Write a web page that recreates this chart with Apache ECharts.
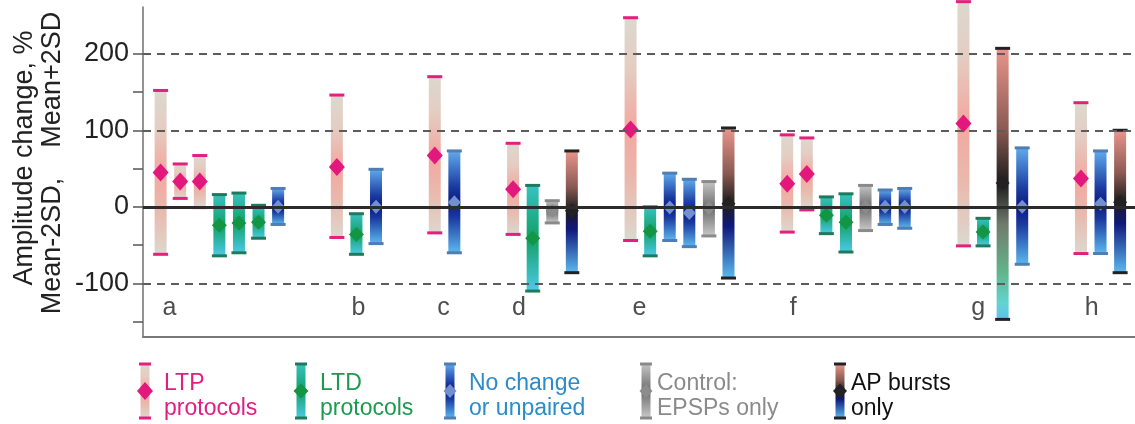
<!DOCTYPE html>
<html>
<head>
<meta charset="utf-8">
<title>Amplitude change, Mean ± 2SD</title>
<script src="https://cdn.jsdelivr.net/npm/echarts@6/dist/echarts.min.js"></script>
<style>
    html, body { margin: 0; padding: 0; background: #fff; }
    #chart { width: 1135px; height: 424px; }
</style>
</head>
<body>
<div id="chart"></div>
<script>
// group letters and the slot they are centred on
var groupNames = ['a', 'b', 'c', 'd', 'e', 'f', 'g', 'h'];
var groupSlots = [1.45, 11.1, 15.45, 19.3, 25.45, 33.3, 42.75, 48.55];

// one entry per bar: slot on the x axis, protocol kind, mean+2SD, mean, mean-2SD
var barSlots = [1, 2, 3, 4, 5, 6, 7,
    10, 11, 12,
    15, 16,
    19, 20, 21, 22,
    25, 26, 27, 28, 29, 30,
    33, 34, 35, 36, 37, 38, 39,
    42, 43, 44, 45,
    48, 49, 50];
var barKinds = ['ltp', 'ltp', 'ltp', 'ltd', 'ltd', 'ltd', 'none',
    'ltp', 'ltd', 'none',
    'ltp', 'none',
    'ltp', 'ltd', 'ctrl', 'ap',
    'ltp', 'ltd', 'none', 'none', 'ctrl', 'ap',
    'ltp', 'ltp', 'ltd', 'ltd', 'ctrl', 'none', 'none',
    'ltp', 'ltd', 'ap2', 'none',
    'ltp', 'none', 'ap'];
var barUpper = [152, 56, 67, 16, 18, 2, 24,
    146, -9, 49,
    170, 73,
    83, 28, 8, 73,
    247, 0, 44, 36, 33, 103,
    94, 90, 13, 17, 28, 22, 24,
    268, -15, 207, 77,
    136, 73, 100];
var barMean = [45, 33, 33, -24, -21, -20, 0,
    52, -36, 0,
    67, 6,
    23, -41, -5, -5,
    101, -32, -1, -8, -2, 4,
    30, 43, -11, -20, 0, 0, 0,
    109, -33, 31, 0,
    37, 4, 6];
var barLower = [-62, 11, -1, -64, -60, -41, -23,
    -40, -62, -48,
    -34, -60,
    -36, -110, -21, -86,
    -44, -64, -44, -52, -38, -93,
    -33, -4, -35, -59, -31, -23, -28,
    -51, -51, -147, -75,
    -61, -61, -86];

// y axis ticks
var tickValues = [-150, -100, -50, 0, 50, 100, 150, 200];
var labelValues = [-100, 0, 100, 200];
var dashedValues = [200, 100, -100];

// legend
var legendKinds = ['ltp', 'ltd', 'none', 'ctrl', 'ap'];
var legendTexts = ['LTP\nprotocols', 'LTD\nprotocols', 'No change\nor unpaired', 'Control:\nEPSPs only', 'AP bursts\nonly'];
var legendColors = ['#e01f80', '#1c9a4e', '#2a8cc8', '#8a8a8a', '#111111'];

var FONT = '"Liberation Sans", Arial, Helvetica, sans-serif';

function clamp(v) { return Math.max(0, Math.min(1, v)); }

// look of each protocol kind; m = relative position of the mean inside the bar
var kindStyle = {
    ltp: {
        stops: function (m) {
            return [[0, '#dcd8ce'], [m * 0.45, '#e4cdc2'], [m, '#f2a8a0'], [m + (1 - m) * 0.45, '#eab8ac'], [1, '#dcd8ce']];
        },
        cap: '#e2207e', dot: '#e2187c', dw: 8, dh: 9
    },
    ltd: {
        stops: function (m) { return [[0, '#38c2c2'], [m, '#12a068'], [1, '#4ccae6']]; },
        cap: '#1f7a5c', dot: '#129646', dw: 7.5, dh: 7.5
    },
    none: {
        stops: function (m) {
            return [[0, '#60aaec'], [clamp(m - 0.15), '#1a3aa0'], [m, '#0c1a80'], [clamp(m + 0.15), '#1a3aa0'], [1, '#5cb8ee']];
        },
        cap: '#4f7db4', dot: '#7090d0', dw: 6.5, dh: 7
    },
    ctrl: {
        stops: function (m) { return [[0, '#c4c4c4'], [m, '#6c6c6c'], [1, '#c8c8c8']]; },
        cap: '#8a8a8a', dot: '#8c8c8c', dw: 6.5, dh: 7
    },
    ap: {
        stops: function (m) {
            return [[0, '#e8958c'], [m * 0.6, '#8a5a52'], [m, '#1c1c1c'], [m + (1 - m) * 0.3, '#10187c'], [1, '#5cbaee']];
        },
        cap: '#222222', dot: '#222222', dw: 7, dh: 7.5
    },
    ap2: {
        stops: function (m) {
            return [[0, '#e8958c'], [m * 0.6, '#8a5a52'], [m, '#1c1c1c'], [m + (1 - m) * 0.3, '#707a6c'],
                [m + (1 - m) * 0.65, '#62b48a'], [m + (1 - m) * 0.88, '#62d4d2'], [1, '#62c0ee']];
        },
        cap: '#222222', dot: '#222222', dw: 7, dh: 7.5
    }
};

function errorBar(key, x, yTop, yMid, yBot, barW, capW) {
    var st = kindStyle[key];
    var m = clamp((yMid - yTop) / (yBot - yTop));
    var stops = st.stops(m).map(function (s) { return { offset: clamp(s[0]), color: s[1] }; });
    return [
        {
            type: 'rect',
            shape: { x: x - barW / 2, y: yTop, width: barW, height: yBot - yTop },
            style: { fill: new echarts.graphic.LinearGradient(0, 0, 0, 1, stops) }
        },
        { type: 'rect', shape: { x: x - capW / 2, y: yTop - 1.5, width: capW, height: 3 }, style: { fill: st.cap } },
        { type: 'rect', shape: { x: x - capW / 2, y: yBot - 1.5, width: capW, height: 3 }, style: { fill: st.cap } },
        {
            type: 'polygon',
            shape: { points: [[x, yMid - st.dh], [x + st.dw, yMid], [x, yMid + st.dh], [x - st.dw, yMid]] },
            style: { fill: st.dot }
        }
    ];
}

function barSeries(key) {
    var data = [];
    for (var i = 0; i < barSlots.length; i++) {
        if (barKinds[i] === key) data.push([barSlots[i], barUpper[i], barMean[i], barLower[i]]);
    }
    return {
        type: 'custom',
        name: key,
        clip: false,
        z: 3,
        data: data,
        renderItem: function (params, api) {
            var s = api.value(0);
            var top = api.coord([s, api.value(1)]);
            var mid = api.coord([s, api.value(2)]);
            var bot = api.coord([s, api.value(3)]);
            return { type: 'group', children: errorBar(key, top[0], top[1], mid[1], bot[1], 12, 15) };
        }
    };
}

var refLines = dashedValues.map(function (v) {
    return { yAxis: v, lineStyle: { type: [8, 6], color: '#5c5c5c', width: 2 } };
});
refLines.push({ yAxis: 0, lineStyle: { type: 'solid', color: '#2b2b2b', width: 3 } });

// legend items are drawn by hand: small error bars with two-line text
var legendX = [145, 301, 450, 646, 840];
var legendGraphic = [];
legendKinds.forEach(function (key, i) {
    legendGraphic.push({ type: 'group', children: errorBar(key, legendX[i], 364, 391, 418, 9, 12) });
    legendGraphic.push({
        type: 'text',
        x: legendX[i] + (i < 3 ? 19 : 11),
        y: 396,
        style: {
            text: legendTexts[i], fill: legendColors[i], fontSize: 23, fontFamily: FONT,
            lineHeight: 25, align: 'left', verticalAlign: 'middle'
        }
    });
});
legendGraphic.push({
    type: 'text', x: 25, y: 158, rotation: Math.PI / 2,
    style: { text: 'Amplitude change, %', fill: '#222', fontSize: 27, fontFamily: FONT, align: 'center', verticalAlign: 'middle' }
});
legendGraphic.push({
    type: 'text', x: 53, y: 163, rotation: Math.PI / 2,
    style: { text: 'Mean-2SD,    Mean+2SD', fill: '#222', fontSize: 27, fontFamily: FONT, align: 'center', verticalAlign: 'middle' }
});

var chart = echarts.init(document.getElementById('chart'));
chart.setOption({
    animation: false,
    backgroundColor: '#ffffff',
    grid: { left: 143, right: 0, top: 7, bottom: 87 },
    xAxis: {
        type: 'value',
        min: 0.1,
        max: 50.76,
        axisLine: { show: true, onZero: false, lineStyle: { color: '#777', width: 2 } },
        axisTick: { show: false },
        axisLabel: { show: false },
        splitLine: { show: false }
    },
    yAxis: {
        type: 'value',
        min: -170,
        max: 261,
        axisLine: { show: true, lineStyle: { color: '#707070', width: 1.5 } },
        axisTick: { show: true, length: 10, customValues: tickValues, lineStyle: { color: '#555', width: 1.5 } },
        axisLabel: { customValues: labelValues, fontSize: 27, color: '#222', margin: 14, fontFamily: FONT },
        splitLine: { show: false }
    },
    graphic: legendGraphic,
    series: [
        {
            type: 'scatter',
            name: 'groups',
            symbolSize: 0,
            z: 1,
            data: groupSlots.map(function (s, i) { return { value: [s, -132], name: groupNames[i] }; }),
            label: { show: true, position: 'inside', formatter: '{b}', fontSize: 25, color: '#222', fontFamily: FONT },
            markLine: { silent: true, symbol: 'none', label: { show: false }, data: refLines }
        },
        barSeries('ltp'),
        barSeries('ltd'),
        barSeries('none'),
        barSeries('ctrl'),
        barSeries('ap'),
        barSeries('ap2')
    ]
});
</script>
</body>
</html>
